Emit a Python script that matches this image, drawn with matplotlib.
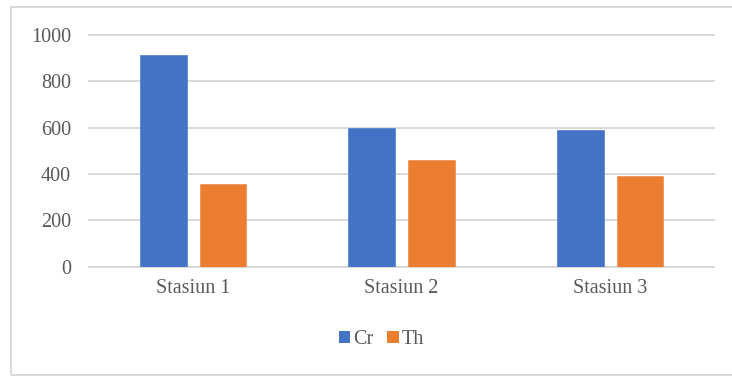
import numpy as np
import matplotlib
matplotlib.use('Agg')
import matplotlib.pyplot as plt
from matplotlib.patches import Rectangle, Patch

# data
stations = ['Stasiun 1', 'Stasiun 2', 'Stasiun 3']
cr_values = [914, 597, 590]
th_values = [358, 459, 393]
series_names = ['Cr', 'Th']
y_ticks = [0, 200, 400, 600, 800, 1000]

blue = '#4472C4'
orange = '#ED7D31'
grid_gray = '#D9D9D9'
text_gray = '#595959'

plt.rcParams['font.family'] = ['Liberation Serif', 'DejaVu Serif']

fig = plt.figure(figsize=(7.32, 3.76), dpi=100)
ax = fig.add_axes([89 / 732, 109.3 / 376, 625.3 / 732, 231.7 / 376])

x = np.arange(len(stations))
width = 0.224
offset = 0.143
ax.bar(x - offset, cr_values, width, color=blue, edgecolor='#5B85D0', linewidth=0.6, zorder=3)
ax.bar(x + offset, th_values, width, color=orange, edgecolor='#F0945A', linewidth=0.6, zorder=3)

ax.set_xlim(-0.5, len(stations) - 0.5)
ax.set_ylim(0, 1000)
ax.set_yticks(y_ticks)
ax.set_yticklabels([str(v) for v in y_ticks])
ax.set_xticks(x)
ax.set_xticklabels(stations)

for v in y_ticks:
    ax.axhline(v, color=grid_gray, linewidth=1.4, zorder=1, clip_on=False)

for s in ax.spines.values():
    s.set_visible(False)
ax.tick_params(axis='y', length=0, pad=13, labelsize=14.5, labelcolor=text_gray)
ax.tick_params(axis='x', length=0, pad=9, labelsize=14.5, labelcolor=text_gray)

handles = [Patch(facecolor=blue, edgecolor='none'), Patch(facecolor=orange, edgecolor='none')]
leg = fig.legend(handles, series_names, loc='center', bbox_to_anchor=(381.5 / 732, 1 - 340 / 376),
                 ncol=2, frameon=False, fontsize=14.5, handlelength=0.55, handleheight=0.55,
                 handletextpad=0.15, columnspacing=0.7, borderpad=0)
for t in leg.get_texts():
    t.set_color(text_gray)

# outer chart border
fig.patches.append(Rectangle((10.5 / 732, 0.8 / 376), 1.0, 1 - 7.5 / 376, transform=fig.transFigure,
                             fill=False, edgecolor=grid_gray, linewidth=1.4))

fig.savefig('out.png', dpi=100)
